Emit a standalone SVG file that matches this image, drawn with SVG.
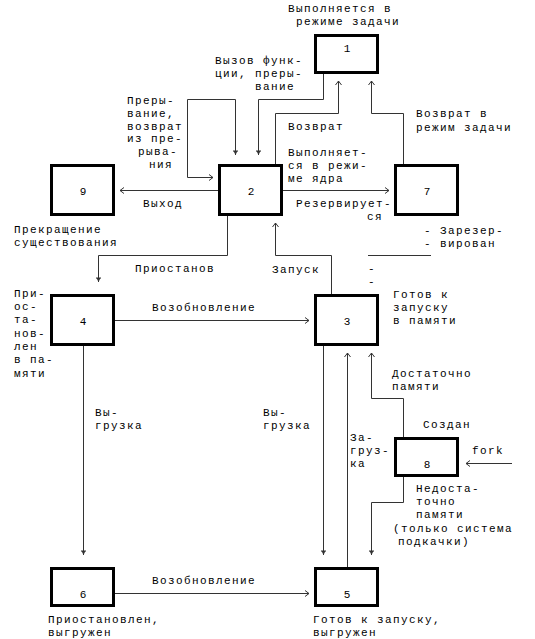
<svg xmlns="http://www.w3.org/2000/svg" width="535" height="639" viewBox="0 0 535 639">
<style>
text{font-family:"Liberation Mono","DejaVu Sans Mono",monospace;font-size:11px;letter-spacing:1.4px;fill:#000}
.num{text-anchor:middle;letter-spacing:0}
.box{fill:#fff;stroke:#000;stroke-width:3}
.c{fill:none;stroke:#333;stroke-width:1}
.ch{marker-end:url(#chev)}
.tee{marker-end:url(#tee)}
</style>
<defs>
<marker id="chev" markerUnits="userSpaceOnUse" markerWidth="10" markerHeight="10" viewBox="-6 -5 10 10" refX="0" refY="0" orient="auto" overflow="visible">
<path d="M-4,-3 L0,0 L-4,3" fill="none" stroke="#333" stroke-width="1"/>
</marker>
<marker id="tee" markerUnits="userSpaceOnUse" markerWidth="10" markerHeight="10" viewBox="-6 -5 10 10" refX="0" refY="0" orient="auto" overflow="visible">
<path d="M-4,-2.5 V2.5" fill="none" stroke="#333" stroke-width="1"/>
<path d="M-4,-2 L0,0 L-4,2 Z" fill="#333"/>
</marker>
</defs>
<rect width="535" height="639" fill="#fff"/>

<g id="connectors">
<path class="c ch" d="M218,190.5 H120"/>
<path class="c ch" d="M283,190.5 H389"/>
<path class="c ch" d="M275.5,164 V113.5 H338.5 V81"/>
<path class="c tee" d="M323.5,73 V99.5 H258.5 V155"/>
<path class="c tee" d="M187.5,99.5 H235.5 V155"/>
<path class="c ch" d="M187.5,99.5 V177.5 H213"/>
<path class="c ch" d="M403.5,164 V113.5 H371.5 V81"/>
<path class="c tee" d="M227.5,216 V255.5 H98.5 V282"/>
<path class="c ch" d="M331.5,294 V255.5 H275.5 V223"/>
<path class="c" d="M368,255.5 H431"/>
<path class="c ch" d="M115,320.5 H309"/>
<path class="c tee" d="M83.5,346 V555"/>
<path class="c tee" d="M323.5,346 V555"/>
<path class="c ch" d="M347.5,567 V353"/>
<path class="c ch" d="M403.5,437 V398.5 H371.5 V353"/>
<path class="c tee" d="M403.5,477 V502.5 H371.5 V555"/>
<path class="c ch" d="M115,593.5 H309"/>
<path class="c ch" d="M512,463.5 H466"/>

<text x="215" y="64">Вызов функ-</text>
<text x="215" y="77">ции, преры-</text>
<text x="255" y="90">вание</text>
<text x="127" y="104">Преры-</text>
<text x="127" y="117">вание,</text>
<text x="127" y="130">возврат</text>
<text x="127" y="142">из пре-</text>
<text x="138" y="155">рыва-</text>
<text x="149" y="168">ния</text>
<text x="288" y="130">Возврат</text>
<text x="416" y="117">Возврат в</text>
<text x="416" y="131">режим задачи</text>
<text x="143" y="207">Выход</text>
<text x="296" y="207">Резервирует-</text>
<text x="367" y="220">ся</text>
<text x="424" y="234">- Зарезер-</text>
<text x="424" y="247">- вирован</text>
<text x="368" y="272">-</text>
<text x="368" y="285">-</text>
<text x="135" y="272">Приостанов</text>
<text x="272" y="273">Запуск</text>
<text x="152" y="311">Возобновление</text>
<text x="392" y="377">Достаточно</text>
<text x="392" y="390">памяти</text>
<text x="95" y="416">Вы-</text>
<text x="95" y="429">грузка</text>
<text x="263" y="416">Вы-</text>
<text x="263" y="429">грузка</text>
<text x="350" y="441">За-</text>
<text x="350" y="454">груз-</text>
<text x="350" y="467">ка</text>
<text x="472" y="454">fork</text>
<text x="416" y="492">Недоста-</text>
<text x="416" y="505">точно</text>
<text x="416" y="518">памяти</text>
<text x="393" y="532">(только система</text>
<text x="398" y="545">подкачки)</text>
<text x="152" y="584">Возобновление</text>
</g>

<g id="node1">
<rect class="box" x="315.5" y="35.5" width="62" height="37"/>
<text class="num" x="347" y="52">1</text>
<text x="288" y="11.5">Выполняется в</text>
<text x="296" y="25">режиме задачи</text>
</g>
<g id="node2">
<rect class="box" x="219.5" y="165.5" width="62" height="49"/>
<text class="num" x="251" y="195">2</text>
<text x="288" y="155.5">Выполняет-</text>
<text x="288" y="168.5">ся в режи-</text>
<text x="288" y="181.5">ме ядра</text>
</g>
<g id="node9">
<rect class="box" x="51.5" y="165.5" width="62" height="49"/>
<text class="num" x="83" y="195">9</text>
<text x="14" y="233">Прекращение</text>
<text x="14" y="246">существования</text>
</g>
<g id="node7">
<rect class="box" x="395.5" y="165.5" width="62" height="49"/>
<text class="num" x="427" y="195">7</text>
</g>
<g id="node4">
<rect class="box" x="51.5" y="295.5" width="62" height="49"/>
<text class="num" x="83" y="325">4</text>
<text x="14" y="297">При-</text>
<text x="14" y="310">ос-</text>
<text x="14" y="323">та-</text>
<text x="14" y="336.5">нов-</text>
<text x="14" y="350">лен</text>
<text x="14" y="363">в па-</text>
<text x="14" y="376.5">мяти</text>
</g>
<g id="node3">
<rect class="box" x="315.5" y="295.5" width="62" height="49"/>
<text class="num" x="347" y="325">3</text>
<text x="393" y="298">Готов к</text>
<text x="393" y="310.5">запуску</text>
<text x="393" y="323.5">в памяти</text>
</g>
<g id="node8">
<rect class="box" x="395.5" y="438.5" width="62" height="37"/>
<text class="num" x="427" y="468">8</text>
<text x="423" y="428">Создан</text>
</g>
<g id="node6">
<rect class="box" x="51.5" y="568.5" width="62" height="37"/>
<text class="num" x="83" y="598">6</text>
<text x="48" y="623">Приостановлен,</text>
<text x="48" y="636">выгружен</text>
</g>
<g id="node5">
<rect class="box" x="315.5" y="568.5" width="62" height="37"/>
<text class="num" x="347" y="598">5</text>
<text x="313" y="623">Готов к запуску,</text>
<text x="313" y="636">выгружен</text>
</g>
</svg>
